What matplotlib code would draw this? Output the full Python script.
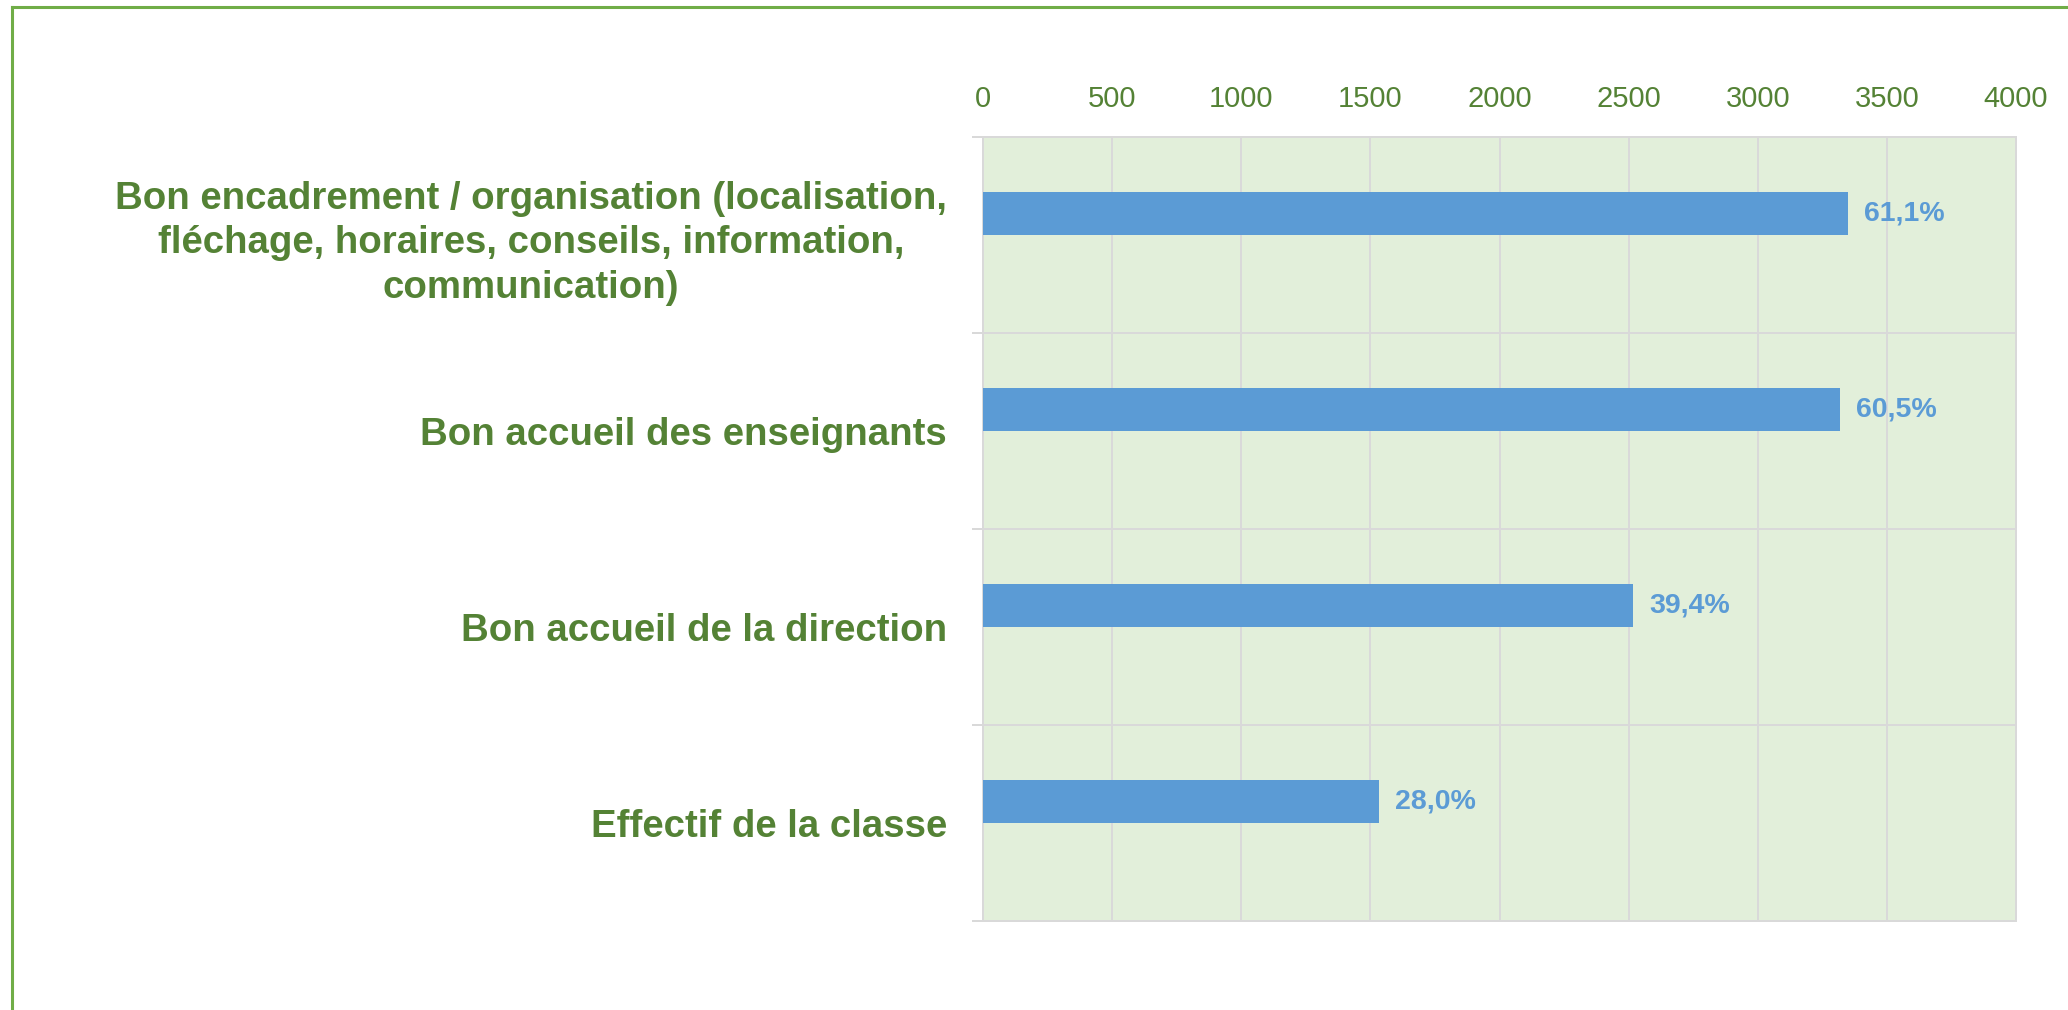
import matplotlib
matplotlib.use("Agg")
import matplotlib.pyplot as plt
from matplotlib.lines import Line2D

# ---- data ----
categories = [
    "Bon encadrement / organisation (localisation,\nfléchage, horaires, conseils, information,\ncommunication)",
    "Bon accueil des enseignants",
    "Bon accueil de la direction",
    "Effectif de la classe",
]
values = [3348, 3318, 2517, 1532]
value_labels = ["61,1%", "60,5%", "39,4%", "28,0%"]
x_ticks = [0, 500, 1000, 1500, 2000, 2500, 3000, 3500, 4000]
x_tick_labels = [str(t) for t in x_ticks]

# ---- style ----
W, H, DPI = 2068, 1010, 100
bar_color = "#5b9bd5"
bg_color = "#e2efda"
grid_color = "#d9d9d9"
label_green = "#548235"
frame_green = "#70ad47"
font = "Liberation Sans"

fig = plt.figure(figsize=(W / DPI, H / DPI), dpi=DPI)
fig.patch.set_facecolor("white")

left, right, top, bottom = 983 / W, 2016 / W, 1 - 137 / H, 1 - 921 / H
ax = fig.add_axes([left, bottom, right - left, top - bottom])
ax.set_facecolor(bg_color)

pos = list(range(len(categories)))
bar_h = 0.22
ax.barh([p - bar_h / 2 for p in pos], values, height=bar_h, color=bar_color, zorder=3)

ax.set_xlim(0, 4000)
ax.set_ylim(3.5, -0.5)

# x axis on top
ax.xaxis.set_ticks_position("top")
ax.xaxis.set_label_position("top")
ax.set_xticks(x_ticks)
ax.set_xticklabels(x_tick_labels, fontsize=21, color=label_green, family=font)
ax.tick_params(axis="x", which="major", length=0, pad=17)

# y axis: labels at category centres, ticks/grid at boundaries
ax.set_yticks(pos)
ax.set_yticklabels(categories, fontsize=27.6, fontweight="bold", color=label_green,
                   family=font, multialignment="center", linespacing=1.3)
ax.tick_params(axis="y", which="major", length=0, pad=26)
ax.set_yticks([p - 0.5 for p in pos] + [pos[-1] + 0.5], minor=True)
ax.tick_params(axis="y", which="minor", length=8, width=1.44, color=grid_color, direction="out")

ax.set_axisbelow(True)
ax.grid(axis="x", which="major", color=grid_color, linewidth=1.44, zorder=0)
ax.grid(axis="y", which="minor", color=grid_color, linewidth=1.44, zorder=0)

for s in ax.spines.values():
    s.set_color(grid_color)
    s.set_linewidth(1.44)

# data labels
for p, v, lab in zip(pos, values, value_labels):
    ax.annotate(lab, xy=(v, p - bar_h / 2), xytext=(11.5, 0), textcoords="offset points",
                ha="left", va="center", fontsize=20.5, fontweight="bold",
                color=bar_color, family=font, zorder=4)

# outer green frame (partially visible)
fig.add_artist(Line2D([12 / W, 12 / W], [1 - 7 / H, 0], transform=fig.transFigure,
                      color=frame_green, linewidth=2.2))
fig.add_artist(Line2D([12 / W, 1], [1 - 7 / H, 1 - 7 / H], transform=fig.transFigure,
                      color=frame_green, linewidth=2.2))

fig.savefig("out.png", dpi=DPI, facecolor="white")
